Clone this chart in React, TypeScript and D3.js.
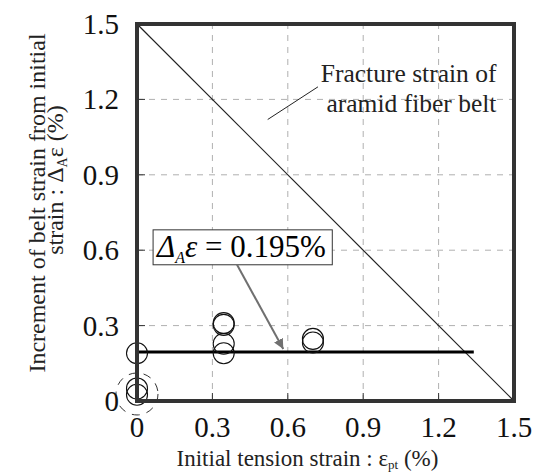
import React from "react";
import * as d3 from "d3";

// tick values (same for both axes)
const ticks = [0, 0.3, 0.6, 0.9, 1.2, 1.5];
const tickLabels = ["0", "0.3", "0.6", "0.9", "1.2", "1.5"];

// measured points: initial tension strain vs. strain increment
const pointX = [0, 0, 0, 0.345, 0.345, 0.345, 0.345, 0.7, 0.7];
const pointY = [0.19, 0.05, 0.025, 0.31, 0.303, 0.228, 0.19, 0.247, 0.233];

// mean increment line
const meanValue = 0.195;
const meanXEnd = 1.34;

// fracture strain line: x + y = 1.5
const fractureLine: [number, number][] = [
  [0, 1.5],
  [1.5, 0],
];

const W = 537;
const H = 475;
const margin = { left: 137, right: 23, top: 24, bottom: 74 };
const font = "Liberation Serif, Times New Roman, serif";

export default function App() {
  const x = d3.scaleLinear().domain([0, 1.5]).range([margin.left, W - margin.right]);
  const y = d3.scaleLinear().domain([0, 1.5]).range([H - margin.bottom, margin.top]);
  const line = d3.line<[number, number]>().x((d) => x(d[0])).y((d) => y(d[1]));

  const x0 = x(0), x1 = x(1.5), y0 = y(0), y1 = y(1.5);

  return (
    <svg
      width={W}
      height={H}
      style={{ position: "absolute", left: 0, top: 0, background: "#fff", fontFamily: font }}
    >
      <defs>
        <marker id="arr" viewBox="0 0 10 10" refX="10" refY="5" markerWidth="5" markerHeight="5" orient="auto">
          <path d="M0,0 L10,5 L0,10 z" fill="#707070" />
        </marker>
      </defs>

      {/* grid */}
      {ticks.slice(1, -1).map((t) => (
        <g key={"g" + t} stroke="#b0b0b0" strokeDasharray="6,6" strokeWidth={1}>
          <line x1={x(t)} x2={x(t)} y1={y0} y2={y1} />
          <line x1={x0} x2={x1} y1={y(t)} y2={y(t)} />
        </g>
      ))}

      {/* inner ticks */}
      {ticks.slice(1, -1).map((t) => (
        <g key={"t" + t} stroke="#333" strokeWidth={1}>
          <line x1={x(t)} x2={x(t)} y1={y0} y2={y0 - 8} />
          <line x1={x0} x2={x0 + 8} y1={y(t)} y2={y(t)} />
        </g>
      ))}

      {/* fracture strain line */}
      <path d={line(fractureLine) || ""} fill="none" stroke="#222" strokeWidth={1.2} />

      {/* mean line */}
      <line x1={x(0)} x2={x(meanXEnd)} y1={y(meanValue)} y2={y(meanValue)} stroke="#000" strokeWidth={3} />

      {/* points */}
      {pointX.map((px, i) => (
        <circle key={"p" + i} cx={x(px)} cy={y(pointY[i])} r={10.5} fill="none" stroke="#111" strokeWidth={1.1} />
      ))}

      {/* dashed marker around origin points */}
      <circle cx={x(0)} cy={y(0.028)} r={21} fill="none" stroke="#333" strokeWidth={1} strokeDasharray="8,7" />

      {/* frame */}
      <rect x={x0} y={y1} width={x1 - x0} height={y0 - y1} fill="none" stroke="#333" strokeWidth={4} />

      {/* y tick labels */}
      {ticks.map((t, i) => (
        <text key={"yl" + t} x={x0 - 18} y={y(t) + 10} textAnchor="end" fontSize={29} fill="#111" fontFamily={font}>
          {tickLabels[i]}
        </text>
      ))}

      {/* x tick labels */}
      {ticks.map((t, i) => (
        <text key={"xl" + t} x={x(t)} y={437} textAnchor="middle" fontSize={29} fill="#111" fontFamily={font}>
          {tickLabels[i]}
        </text>
      ))}

      {/* x axis title */}
      <text x={x(0.75) - 18} y={466} textAnchor="middle" fontSize={23} fill="#222" fontFamily={font}>
        Initial tension strain : ε
        <tspan fontSize={13} dy={3}>pt</tspan>
        <tspan dy={-3}> (%)</tspan>
      </text>

      {/* y axis title */}
      <text transform={`translate(45,203) rotate(-90)`} textAnchor="middle" fontSize={24} fill="#222" fontFamily={font}>
        Increment of belt strain from initial
      </text>
      <text transform={`translate(63,180) rotate(-90)`} textAnchor="middle" fontSize={24} fill="#222" fontFamily={font}>
        strain : Δ<tspan fontSize={14} dy={4}>A</tspan>
        <tspan dy={-4}>ε (%)</tspan>
      </text>

      {/* fracture annotation */}
      <line x1={x(0.52)} y1={y(1.12)} x2={x(0.72)} y2={y(1.25)} stroke="#222" strokeWidth={1} />
      <text x={x(1.43)} y={82} textAnchor="end" fontSize={25.5} fill="#222" fontFamily={font}>Fracture strain of</text>
      <text x={x(1.43)} y={112} textAnchor="end" fontSize={25.5} fill="#222" fontFamily={font}>aramid fiber belt</text>

      {/* mean annotation box */}
      <rect x={x(0.064)} y={y(0.681)} width={x(0.777) - x(0.064)} height={y(0.542) - y(0.681)} fill="#fff" stroke="#333" strokeWidth={1} />
      <text x={x(0.08)} y={y(0.572)} fontSize={31} fill="#000" fontFamily={font}>
        <tspan fontStyle="italic">Δ</tspan>
        <tspan fontStyle="italic" fontSize={16} dy={6}>A</tspan>
        <tspan fontStyle="italic" dy={-6}>ε</tspan>
        <tspan> = 0.195%</tspan>
      </text>
      <line x1={x(0.398)} y1={y(0.542)} x2={x(0.582)} y2={y(0.207)} stroke="#707070" strokeWidth={2} markerEnd="url(#arr)" />
    </svg>
  );
}
